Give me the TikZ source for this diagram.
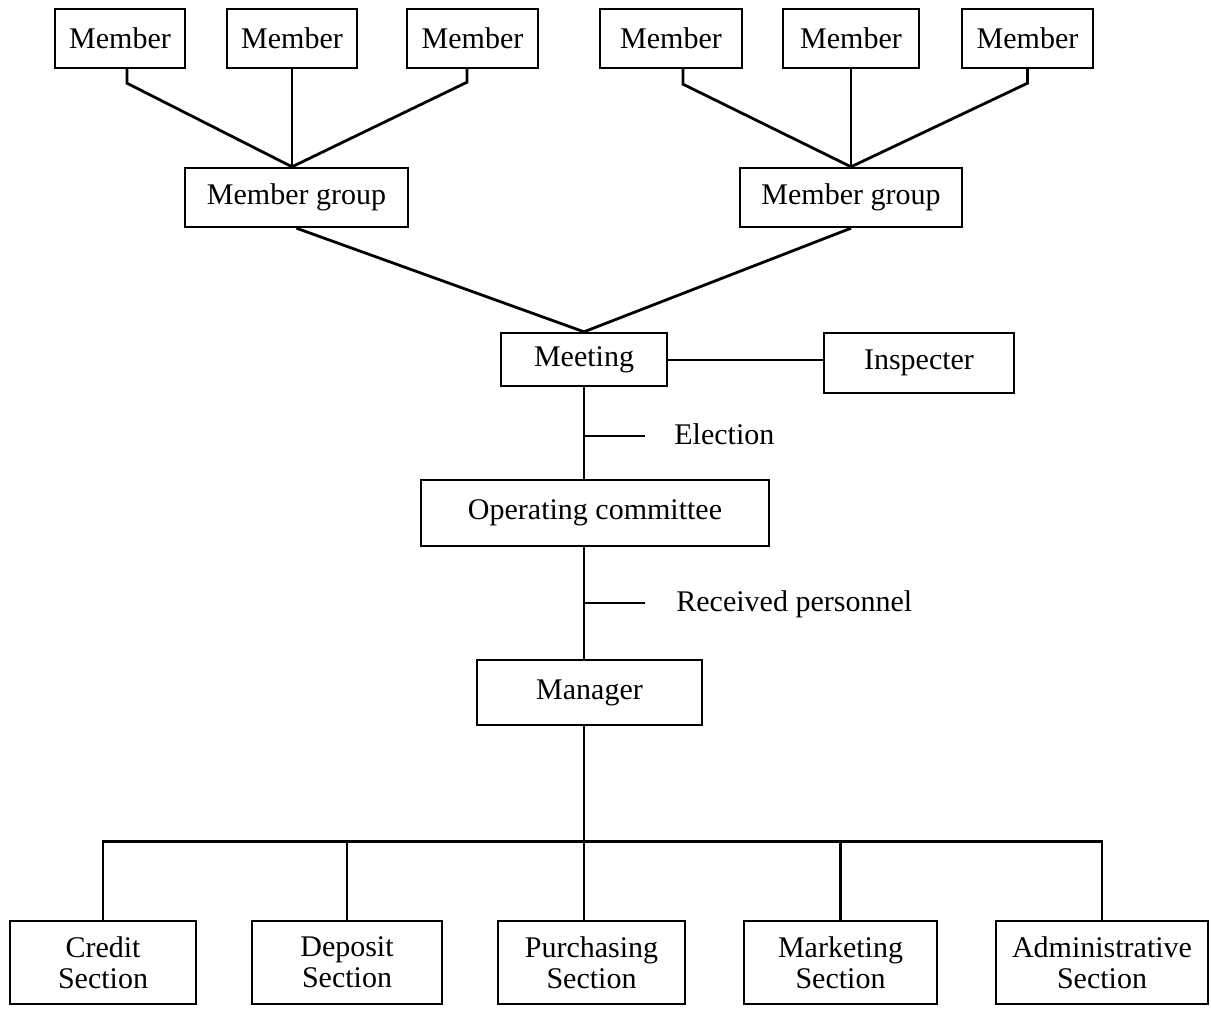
\documentclass[tikz,border=0pt]{standalone}
\usepackage{fontspec}
\setmainfont{Liberation Serif}
\usetikzlibrary{calc}
\begin{document}
\begin{tikzpicture}[x=0.5pt,y=-0.5pt,
  box/.style={draw,line width=1.2pt,inner sep=0pt,align=center,
              font=\fontsize{15}{15.5}\selectfont},
  lbl/.style={inner sep=0pt,font=\fontsize{15}{15.5}\selectfont},
  link/.style={line width=1.4pt},
  thin link/.style={line width=1pt}]
\useasboundingbox (0,0) rectangle (1211,1008);

% members
\node[box,minimum width=65pt,minimum height=29.5pt]   (m1) at (120,38.5)    {Member};
\node[box,minimum width=65pt,minimum height=29.5pt]   (m2) at (292,38.5)    {Member};
\node[box,minimum width=65.5pt,minimum height=29.5pt] (m3) at (472.5,38.5)  {Member};
\node[box,minimum width=71pt,minimum height=29.5pt]   (m4) at (671,38.5)    {Member};
\node[box,minimum width=68pt,minimum height=29.5pt]   (m5) at (851,38.5)    {Member};
\node[box,minimum width=65.5pt,minimum height=29.5pt] (m6) at (1027.5,38.5) {Member};

% member groups
\node[box,minimum width=111.5pt,minimum height=29.5pt] (g1) at (296.5,197.5) {Member group};
\node[box,minimum width=111pt,minimum height=29.5pt]   (g2) at (851,197.5)   {Member group};

% governance
\node[box,minimum width=83pt,minimum height=26.5pt]  (meet) at (584,359.5) {Meeting};
\node[box,minimum width=95pt,minimum height=30pt]    (insp) at (919,363)   {Inspecter};
\node[box,minimum width=174pt,minimum height=33pt]   (opc)  at (595,513)   {Operating committee};
\node[box,minimum width=112.5pt,minimum height=32.5pt] (mgr) at (589.5,692.5) {Manager};

\node[lbl,anchor=base west] (elect) at (674,444) {Election};
\node[lbl,anchor=base west] (recv)  at (676,611) {Received personnel};

% sections
\node[box,minimum width=93pt,minimum height=41.5pt]   (cred) at (103,962.5)   {Credit\\Section};
\node[box,minimum width=95pt,minimum height=41.5pt]   (depo) at (347,962.5)   {Deposit\\Section};
\node[box,minimum width=93.5pt,minimum height=41.5pt] (purc) at (591.5,962.5) {Purchasing\\Section};
\node[box,minimum width=96.5pt,minimum height=41.5pt] (mark) at (840.5,962.5) {Marketing\\Section};
\node[box,minimum width=106pt,minimum height=41.5pt]  (admn) at (1102,962.5)  {Administrative\\Section};

% members to groups
\coordinate (j1) at (g1.north -| m2.south);
\coordinate (j2) at (g2.north -| m5.south);
\draw[link] ($(m1.south)+(7,0)$) -- ++(0,14) -- (j1);
\draw[thin link] (m2.south) -- (j1);
\draw[link] ($(m3.south)+(-5.5,0)$) -- ++(0,13) -- (j1);
\draw[link] ($(m4.south)+(12,0)$) -- ++(0,15) -- (j2);
\draw[thin link] (m5.south) -- (j2);
\draw[link] (m6.south) -- ++(0,14) -- (j2);

% groups to meeting
\draw[link] (g1.south) -- (meet.north);
\draw[link] (g2.south) -- (meet.north);
\draw[thin link] (meet.east) -- (insp.west |- meet.east);

% chain of command
\coordinate (et) at ($(elect.base west)+(-29,-8)$);
\coordinate (rt) at ($(recv.base west)+(-31,-8)$);
\draw[link] (meet.south) -- (meet.south |- opc.north);
\draw[thin link] (et -| meet.south) -- (et);
\draw[link] (opc.south -| meet.south) -- (mgr.north -| meet.south);
\draw[thin link] (rt -| meet.south) -- (rt);

% sections bus
\coordinate (bus) at ($(mgr.south -| meet.south)+(0,115)$);
\draw[link] (mgr.south -| meet.south) -- (purc.north -| meet.south);
\draw[link] (cred.north) -- (cred.north |- bus) -- (admn.north |- bus) -- (admn.north);
\draw[link] (depo.north) -- (depo.north |- bus);
\draw[link] (mark.north) -- (mark.north |- bus);
\end{tikzpicture}
\end{document}
